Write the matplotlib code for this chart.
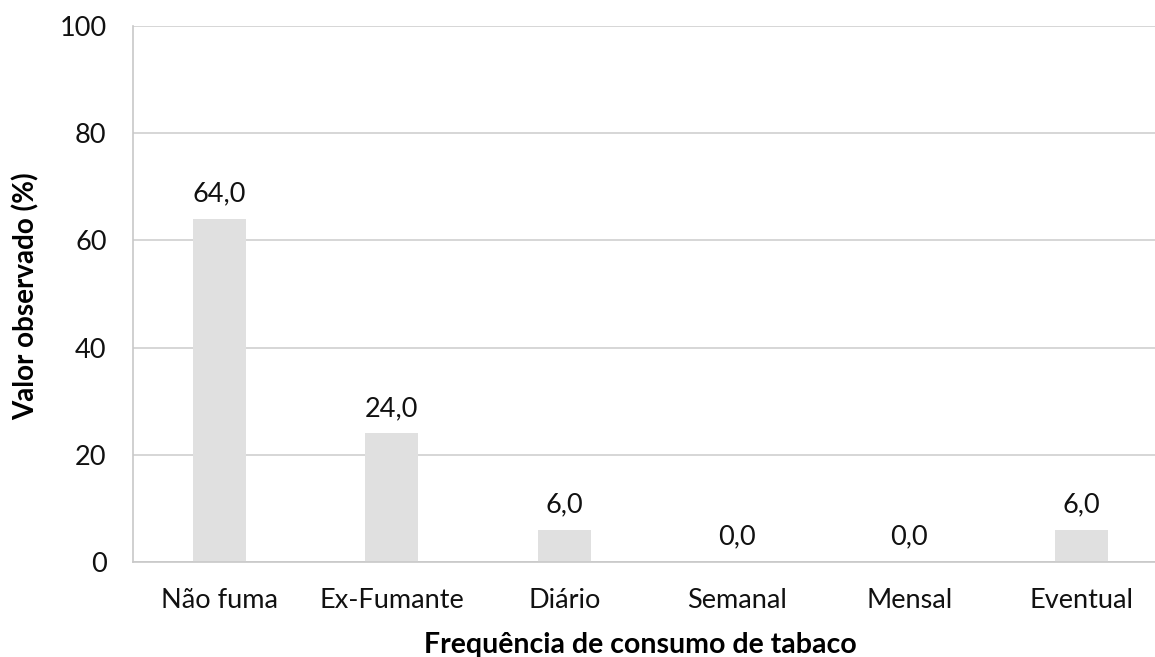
import numpy as np
import matplotlib
matplotlib.use("Agg")
import matplotlib.pyplot as plt

plt.rcParams['font.family'] = ['Lato', 'DejaVu Sans']

categorias = ["Não fuma", "Ex-Fumante", "Diário", "Semanal", "Mensal", "Eventual"]
valores = [64.0, 24.0, 6.0, 0.0, 0.0, 6.0]
yticks = [0, 20, 40, 60, 80, 100]

fig = plt.figure(figsize=(11.55, 6.57), dpi=100)
# plot area runs a bit past the right edge, like the cropped original
ax = fig.add_axes([133 / 1155, 95 / 657, 1035 / 1155, 536 / 657])

x = np.arange(len(categorias))
ax.bar(x, valores, width=0.31, color="#e0e0e0", zorder=2)

for xi, v in zip(x, valores):
    ax.annotate(f"{v:.1f}".replace(".", ","), (xi, v), xytext=(0, 9),
                textcoords="offset points", ha="center", va="bottom",
                fontsize=19.5, color="#111111")

ax.set_xlim(-0.5, len(categorias) - 0.5)
ax.set_ylim(0, 100)
ax.set_yticks(yticks)
ax.set_xticks(x)
ax.set_xticklabels(categorias)
ax.tick_params(axis="both", length=0, labelsize=19.5, colors="#111111")
ax.tick_params(axis="y", pad=19)
ax.tick_params(axis="x", pad=19)

ax.yaxis.grid(True, color="#d0d0d0", linewidth=1.2, zorder=0)
ax.set_axisbelow(True)
for s in ["top", "right"]:
    ax.spines[s].set_visible(False)
for s in ["left", "bottom"]:
    ax.spines[s].set_color("#c8c8c8")
    ax.spines[s].set_linewidth(1.2)

fig.text(640 / 1155, 1 - 645 / 657, "Frequência de consumo de tabaco",
         ha="center", va="center", fontsize=20.5, fontweight="bold")
fig.text(26 / 1155, 1 - 296 / 657, "Valor observado (%)", rotation=90,
         ha="center", va="center", fontsize=20, fontweight="bold")

fig.savefig("out.png", dpi=100)
